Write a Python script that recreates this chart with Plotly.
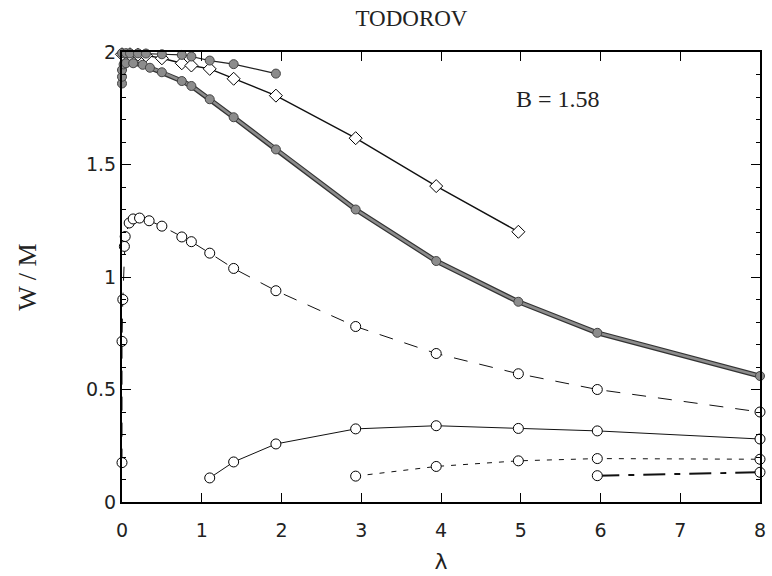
import plotly.graph_objects as go

# Series 1: grey filled circles, thin line (top)
s1_x = [0.0, 0.05, 0.1, 0.2, 0.3, 0.5, 0.75, 0.87, 1.1, 1.4, 1.93]
s1_y = [1.995, 1.995, 1.994, 1.994, 1.993, 1.99, 1.987, 1.98, 1.962, 1.946, 1.904]

# Series 2: open diamonds, thin line
s2_x = [0.0, 0.1, 0.2, 0.3, 0.5, 0.75, 0.87, 1.1, 1.4, 1.93, 2.93, 3.94, 4.97]
s2_y = [1.99, 1.99, 1.988, 1.985, 1.972, 1.95, 1.94, 1.925, 1.881, 1.806, 1.617, 1.404, 1.201]

# Series 3: grey filled circles, thick line
s3_x = [0.0, 0.0, 0.0, 0.02, 0.05, 0.14, 0.26, 0.35, 0.5, 0.75, 0.87, 1.1, 1.4, 1.93, 2.93, 3.94, 4.97, 5.96, 8.0]
s3_y = [1.86, 1.89, 1.92, 1.945, 1.95, 1.95, 1.943, 1.93, 1.91, 1.871, 1.849, 1.79, 1.71, 1.567, 1.30, 1.071, 0.89, 0.752, 0.56]

# Series 4: open circles, dashed line
s4_x = [0.0, 0.0, 0.01, 0.03, 0.04, 0.09, 0.14, 0.22, 0.34, 0.5, 0.75, 0.87, 1.1, 1.4, 1.93, 2.93, 3.94, 4.97, 5.96, 8.0]
s4_y = [0.175, 0.714, 0.90, 1.136, 1.18, 1.24, 1.258, 1.262, 1.25, 1.226, 1.178, 1.157, 1.106, 1.038, 0.939, 0.78, 0.66, 0.57, 0.50, 0.40]

# Series 5: open circles, solid thin line
s5_x = [1.1, 1.4, 1.93, 2.93, 3.94, 4.97, 5.96, 8.0]
s5_y = [0.107, 0.178, 0.258, 0.325, 0.339, 0.327, 0.316, 0.28]

# Series 6: open circles, short-dashed line
s6_x = [2.93, 3.94, 4.97, 5.96, 8.0]
s6_y = [0.115, 0.158, 0.183, 0.193, 0.19]

# Series 7: open circles, long dash-dot line
s7_x = [5.96, 8.0]
s7_y = [0.117, 0.132]

x_ticks = [0, 1, 2, 3, 4, 5, 6, 7, 8]
x_minor_ticks = [round(i * 0.2, 1) for i in range(41) if i % 5 != 0]
y_ticks = [0, 0.5, 1, 1.5, 2]
y_ticklabels = ["0", "0.5", "1", "1.5", "2"]

GREY = "#8c8c8c"
open_circle_f = dict(symbol="circle", size=10, color="white", line=dict(width=1, color="black"))

fig = go.Figure()

fig.add_trace(go.Scatter(x=s4_x, y=s4_y, mode="lines+markers", line=dict(color="#111111", width=1, dash="14px,12px"),
                         marker=open_circle_f, cliponaxis=False))
fig.add_trace(go.Scatter(x=s5_x, y=s5_y, mode="lines+markers", line=dict(color="#111111", width=1),
                         marker=open_circle_f, cliponaxis=False))
fig.add_trace(go.Scatter(x=s6_x, y=s6_y, mode="lines+markers", line=dict(color="#111111", width=1, dash="5px,7px"),
                         marker=open_circle_f, cliponaxis=False))
fig.add_trace(go.Scatter(x=s7_x, y=s7_y, mode="lines+markers", line=dict(color="#111111", width=2, dash="22px,9px,6px,9px"),
                         marker=open_circle_f, cliponaxis=False))

# diamonds (series 2)
fig.add_trace(go.Scatter(x=s2_x, y=s2_y, mode="lines+markers", line=dict(color="#111111", width=1.4),
                         marker=dict(symbol="diamond", size=10, color="white", line=dict(width=1, color="black")),
                         cliponaxis=False))

# thick grey line with dark edges (series 3)
fig.add_trace(go.Scatter(x=s3_x, y=s3_y, mode="lines", line=dict(color="#333333", width=5), hoverinfo="skip",
                         cliponaxis=False))
fig.add_trace(go.Scatter(x=s3_x, y=s3_y, mode="lines+markers", line=dict(color=GREY, width=2.6),
                         marker=dict(symbol="circle", size=9, color=GREY, line=dict(width=1, color="#444444")),
                         cliponaxis=False))

# top grey series (series 1)
fig.add_trace(go.Scatter(x=s1_x, y=s1_y, mode="lines+markers", line=dict(color="#222222", width=1.2),
                         marker=dict(symbol="circle", size=9, color=GREY, line=dict(width=1, color="#444444")),
                         cliponaxis=False))

tickfont = dict(family="DejaVu Sans", size=19, color="#222222")

fig.update_layout(
    width=772, height=576,
    margin=dict(l=122, r=6, t=52, b=64),
    paper_bgcolor="white", plot_bgcolor="white",
    showlegend=False,
    title=dict(text="TODOROV", x=0.533, xanchor="center", y=1 - 18 / 576, yanchor="middle",
               font=dict(family="Liberation Serif", size=23, color="#222222")),
    annotations=[dict(text="B = 1.58", x=5.47, y=1.79, xref="x", yref="y", showarrow=False,
                      font=dict(family="Liberation Serif", size=24, color="#222222"))],
    xaxis=dict(
        range=[0, 8], tickmode="array", tickvals=x_ticks, ticktext=[str(v) for v in x_ticks],
        showline=True, linecolor="#000000", linewidth=2, mirror="allticks",
        ticks="inside", ticklen=9, tickcolor="#000000", tickwidth=1,
        showgrid=False, zeroline=False, tickfont=tickfont, ticklabelstandoff=10,
        title=dict(text="λ", font=dict(family="DejaVu Sans", size=22, color="#222222"), standoff=14),
    ),
    # overlay axis carrying only the minor ticks (0.2 steps) on bottom and top
    xaxis2=dict(
        overlaying="x", anchor="y", side="bottom", range=[0, 8],
        tickmode="array", tickvals=x_minor_ticks, showticklabels=False,
        showline=False, mirror="allticks",
        ticks="inside", ticklen=4, tickcolor="#000000", tickwidth=1,
        showgrid=False, zeroline=False,
    ),
    yaxis=dict(
        range=[0, 2], tickmode="array", tickvals=y_ticks, ticktext=y_ticklabels,
        showline=True, linecolor="#000000", linewidth=2, mirror="allticks",
        ticks="inside", ticklen=9, tickcolor="#000000", tickwidth=1,
        minor=dict(ticks="inside", dtick=0.1, ticklen=4, tickcolor="#000000", tickwidth=1),
        showgrid=False, zeroline=False, tickfont=tickfont,
        title=dict(text="W / M", font=dict(family="Liberation Serif", size=26, color="#222222"), standoff=42),
    ),
)

fig.write_html("out.html")
